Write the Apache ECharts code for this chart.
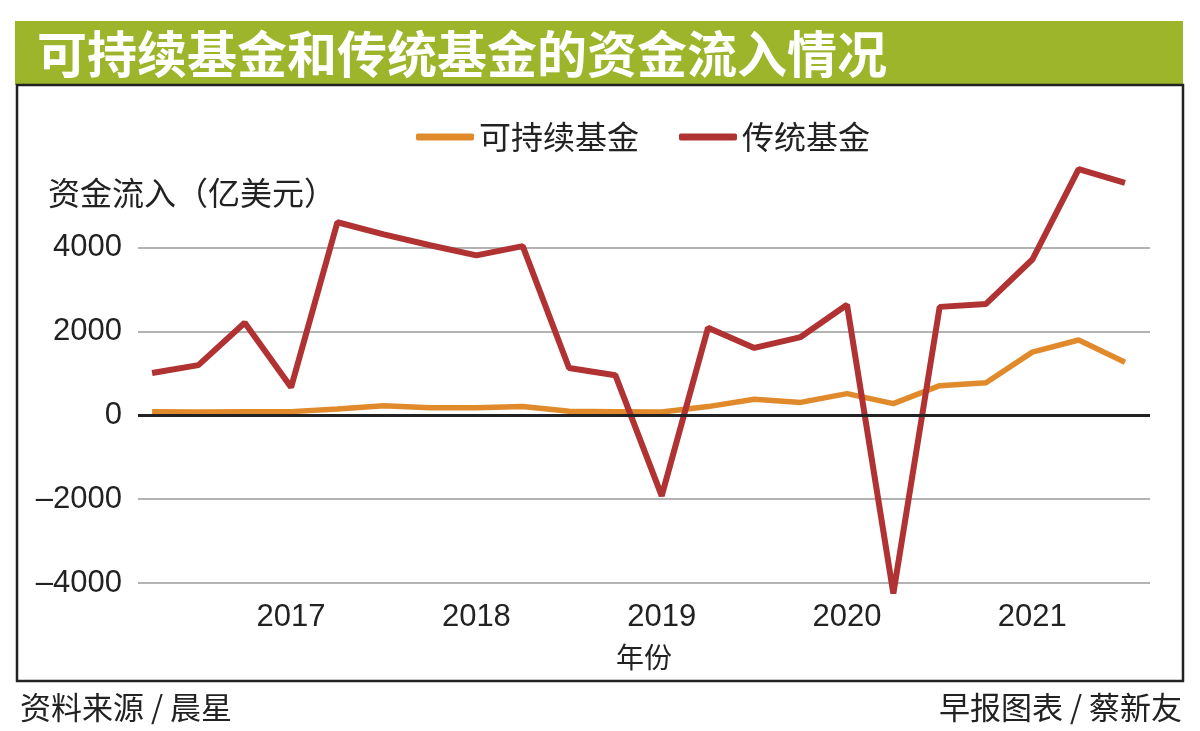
<!DOCTYPE html>
<html>
<head>
<meta charset="utf-8">
<script src="https://cdn.jsdelivr.net/npm/echarts@6/dist/echarts.min.js"></script>
<style>html,body{margin:0;padding:0;background:#fff;}#c{width:1200px;height:731px;}</style>
</head>
<body>
<div id="c"></div>
<script>
const quarters = ['2016Q1','2016Q2','2016Q3','2016Q4','2017Q1','2017Q2','2017Q3','2017Q4','2018Q1','2018Q2','2018Q3','2018Q4','2019Q1','2019Q2','2019Q3','2019Q4','2020Q1','2020Q2','2020Q3','2020Q4','2021Q1','2021Q2'];
const sustainable = [90, 80, 90, 90, 150, 230, 180, 180, 210, 100, 90, 80, 210, 385, 310, 520, 280, 710, 780, 1510, 1800, 1270];
const traditional = [1010, 1200, 2210, 670, 4610, 4320, 4060, 3820, 4040, 1130, 960, -1920, 2090, 1610, 1870, 2640, -4250, 2590, 2660, 3720, 5880, 5550];
const yearTicks = [2017, 2018, 2019, 2020, 2021];
const seriesNames = ['可持续基金', '传统基金'];

function qx(q) { return parseInt(q.slice(0, 4), 10) + parseInt(q.slice(5), 10) / 4; }
const susData = quarters.map((q, i) => [qx(q), sustainable[i]]);
const tradData = quarters.map((q, i) => [qx(q), traditional[i]]);

const CJK = "'Noto Sans CJK SC', sans-serif";
const NUM = "'Liberation Sans', Arial, sans-serif";

const chart = echarts.init(document.getElementById('c'), null, {renderer: 'canvas'});
chart.setOption({
  backgroundColor: '#fff',
  animation: false,
  graphic: [
    {type: 'rect', shape: {x: 15, y: 21, width: 1168, height: 64}, style: {fill: '#9db52a'}, z: 0},
    {type: 'text', x: 37, y: 54, style: {text: '可持续基金和传统基金的资金流入情况', fill: '#fff', font: "bold 50px 'Noto Sans CJK SC'", textVerticalAlign: 'middle'}, z: 1},
    {type: 'rect', shape: {x: 17, y: 85, width: 1166, height: 596}, style: {fill: 'none', stroke: '#222', lineWidth: 2.5}, z: 0},
    {type: 'text', x: 48, y: 193, style: {text: '资金流入（亿美元）', fill: '#222', font: "32px 'Noto Sans CJK SC'", textVerticalAlign: 'middle'}},
    {type: 'text', x: 20, y: 707, style: {text: '资料来源 / 晨星', fill: '#222', font: "31px 'Noto Sans CJK SC'", textVerticalAlign: 'middle'}},
    {type: 'text', x: 1182, y: 707, style: {text: '早报图表 / 蔡新友', fill: '#222', font: "31px 'Noto Sans CJK SC'", textVerticalAlign: 'middle', textAlign: 'right'}}
  ],
  legend: {
    left: 411, top: 114,
    itemWidth: 58, itemHeight: 7, itemGap: 40,
    icon: 'roundRect',
    textStyle: {fontSize: 32, color: '#222', fontFamily: CJK, lineHeight: 36},
    data: seriesNames
  },
  grid: {left: 138, right: 50, top: 164, bottom: 148},
  xAxis: {
    type: 'value', min: 2016.174, max: 2021.635,
    axisLine: {show: false, onZero: false},
    axisTick: {show: false},
    splitLine: {show: false},
    axisLabel: {customValues: yearTicks, fontSize: 31, color: '#222', fontFamily: NUM, margin: 19,
      formatter: v => String(Math.round(v))},
    name: '年份', nameLocation: 'middle', nameGap: 60,
    nameTextStyle: {fontSize: 28, color: '#222', fontFamily: CJK, padding: [0, 0, 0, 0]}
  },
  yAxis: {
    type: 'value', min: -4000, max: 6000, interval: 2000,
    axisLine: {show: false}, axisTick: {show: false},
    splitLine: {show: true, showMaxLine: false, lineStyle: {color: '#9a9a9a', width: 1.5}},
    axisLabel: {fontSize: 31, color: '#222', fontFamily: NUM, margin: 16,
      formatter: v => v === 6000 ? '' : (v < 0 ? '–' + Math.abs(v) : String(v))}
  },
  series: [
    {type: 'line', name: '_zero', data: [], z: 1, silent: true, legendHoverLink: false,
      markLine: {silent: true, symbol: 'none', label: {show: false}, lineStyle: {color: '#222', width: 3, type: 'solid'}, data: [{yAxis: 0}]}},
    {type: 'line', name: seriesNames[0], data: susData, z: 3, symbol: 'none', color: '#e08a2c', clip: false,
      lineStyle: {width: 5.5, color: '#e08a2c'}},
    {type: 'line', name: seriesNames[1], data: tradData, z: 4, symbol: 'none', color: '#b03232', clip: false,
      lineStyle: {width: 6, color: '#b03232'}}
  ]
});
</script>
</body>
</html>
